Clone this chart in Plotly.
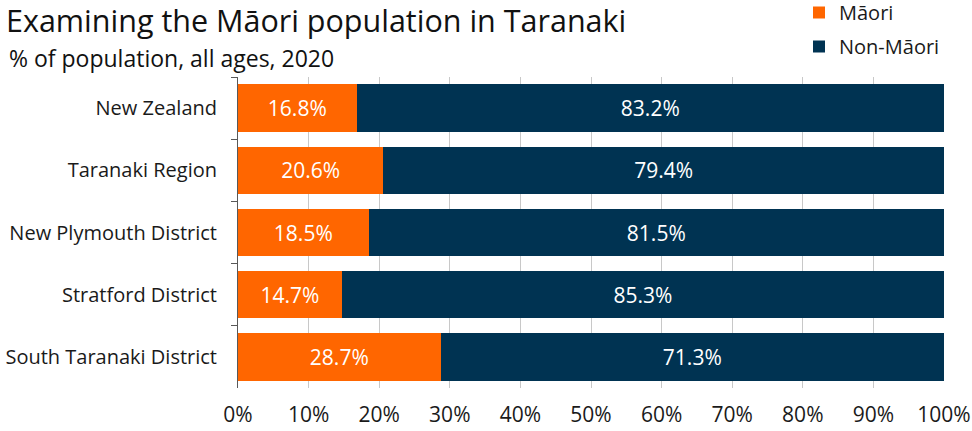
import plotly.graph_objects as go

categories = ["New Zealand", "Taranaki Region", "New Plymouth District", "Stratford District", "South Taranaki District"]
maori = [16.8, 20.6, 18.5, 14.7, 28.7]
non_maori = [83.2, 79.4, 81.5, 85.3, 71.3]
x_ticks = [0, 10, 20, 30, 40, 50, 60, 70, 80, 90, 100]
x_tick_labels = [f"{v}%" for v in x_ticks]

ORANGE = "#ff6600"
NAVY = "#003352"
FONT = "Open Sans, Noto Sans, sans-serif"

fig = go.Figure()
fig.add_trace(go.Bar(
    y=categories, x=maori, name="Māori", orientation="h", legendgroup="a",
    marker=dict(color=ORANGE, line=dict(width=0)),
    texttemplate="%{x:.1f}%", textposition="inside", insidetextanchor="middle",
    textfont=dict(color="white", size=21, family=FONT),
    hoverinfo="skip",
))
fig.add_trace(go.Bar(
    y=categories, x=non_maori, name="Non-Māori", orientation="h", legendgroup="b",
    marker=dict(color=NAVY, line=dict(width=0)),
    texttemplate="%{x:.1f}%", textposition="inside", insidetextanchor="middle",
    textfont=dict(color="white", size=21, family=FONT),
    hoverinfo="skip",
))

L, R, T, B = 238, 28, 77, 43
W, H = 972, 431
pw = W - L - R
ph = H - T - B

fig.update_layout(
    width=W, height=H,
    barmode="stack", bargap=0.24,
    margin=dict(l=L, r=R, t=T, b=B, autoexpand=False),
    paper_bgcolor="white", plot_bgcolor="white",
    font=dict(family=FONT, size=20, color="#1a1a1a"),
    showlegend=True,
    legend=dict(
        orientation="v", xref="paper", yref="paper",
        x=(799 - L) / pw, xanchor="left",
        y=(H - B + 7) / ph, yanchor="top",
        font=dict(size=20, color="#1a1a1a"),
        traceorder="grouped", itemwidth=30, tracegroupgap=5,
        bgcolor="rgba(0,0,0,0)",
    ),
    title=dict(
        text="Examining the Māori population in Taranaki",
        x=6 / W, xanchor="left", xref="container",
        y=1 - 21 / H, yanchor="middle", yref="container",
        font=dict(size=30.5, color="#111111", family=FONT),
    ),
    annotations=[dict(
        text="% of population, all ages, 2020",
        xref="paper", yref="paper",
        x=(7 - L) / pw, xanchor="left",
        y=(H - B - 58) / ph, yanchor="middle",
        showarrow=False,
        font=dict(size=23, color="#111111", family=FONT),
    )],
    xaxis=dict(
        range=[0, 100], tickvals=x_ticks, ticktext=x_tick_labels,
        showgrid=True, gridcolor="#c8c8c8", gridwidth=1,
        zeroline=False, showline=False, ticks="",
        tickfont=dict(size=21, color="#1a1a1a"),
        ticklabelstandoff=12, fixedrange=True, automargin=False,
    ),
    yaxis=dict(
        categoryorder="array", categoryarray=categories,
        autorange="reversed",
        showline=True, linecolor="#595959", linewidth=1,
        ticks="outside", tickson="boundaries", ticklen=6, tickcolor="#595959",
        tickfont=dict(size=20, color="#1a1a1a"),
        ticklabelstandoff=16, showgrid=False, fixedrange=True, automargin=False,
    ),
)

fig.write_html(
    "out.html",
    config={"displayModeBar": False, "staticPlot": True},
    post_script="document.body.style.margin='0';document.body.style.overflow='hidden';",
)
